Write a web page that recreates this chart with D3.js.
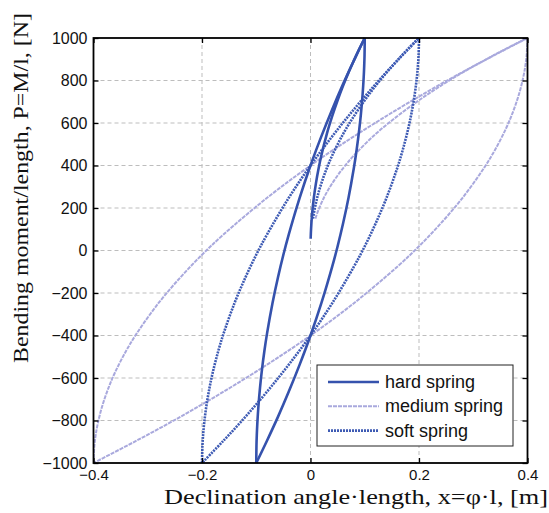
<!DOCTYPE html>
<html>
<head>
<meta charset="utf-8">
<script src="https://cdn.jsdelivr.net/npm/d3@7"></script>
<style>
  html, body { margin: 0; padding: 0; background: #fff; }
  svg { display: block; }
</style>
</head>
<body>
<svg id="chart" width="549" height="513"></svg>
<script>
// ---------- DATA ----------
const xTicks = [-0.4, -0.2, 0, 0.2, 0.4];
const yTicks = [-1000, -800, -600, -400, -200, 0, 200, 400, 600, 800, 1000];
const seriesNames = ["hard spring", "medium spring", "soft spring"];

// hard spring (x max 0.1)
const hardVirginX = [0.0003, 0.001, 0.003, 0.006, 0.01, 0.015, 0.02, 0.03, 0.04, 0.05, 0.06, 0.07, 0.08, 0.09, 0.1];
const hardVirginP = [55, 100, 173, 245, 316, 387, 447, 548, 632, 707, 775, 837, 894, 949, 1000];
const hardDownX = [0.1, 0.0996, 0.099, 0.098, 0.096, 0.093, 0.09, 0.085, 0.08, 0.07, 0.06, 0.05, 0.04, 0.02, 0, -0.02, -0.04, -0.06, -0.08, -0.1];
const hardDownP = [1000, 918, 869, 813, 733, 644, 572, 473, 389, 247, 127, 20, -76, -248, -400, -537, -664, -783, -894, -1000];
const hardUpX = [-0.1, -0.0996, -0.099, -0.098, -0.096, -0.093, -0.09, -0.085, -0.08, -0.07, -0.06, -0.05, -0.04, -0.02, 0, 0.02, 0.04, 0.06, 0.08, 0.1];
const hardUpP = [-1000, -918, -869, -813, -733, -644, -572, -473, -389, -247, -127, -20, 76, 248, 400, 537, 664, 783, 894, 1000];

// soft spring (x max 0.2)
const softVirginX = [0.0045, 0.006, 0.012, 0.02, 0.03, 0.04, 0.06, 0.08, 0.1, 0.12, 0.14, 0.16, 0.18, 0.2];
const softVirginP = [150, 173, 245, 316, 387, 447, 548, 632, 707, 775, 837, 894, 949, 1000];
const softDownX = [0.2, 0.1992, 0.198, 0.196, 0.192, 0.186, 0.18, 0.17, 0.16, 0.14, 0.12, 0.1, 0.08, 0.04, 0, -0.04, -0.08, -0.12, -0.16, -0.2];
const softDownP = [1000, 918, 869, 813, 733, 644, 572, 473, 389, 247, 127, 20, -76, -248, -400, -537, -664, -783, -894, -1000];
const softUpX = [-0.2, -0.1992, -0.198, -0.196, -0.192, -0.186, -0.18, -0.17, -0.16, -0.14, -0.12, -0.1, -0.08, -0.04, 0, 0.04, 0.08, 0.12, 0.16, 0.2];
const softUpP = [-1000, -918, -869, -813, -733, -644, -572, -473, -389, -247, -127, -20, 76, 248, 400, 537, 664, 783, 894, 1000];

// medium spring (x max 0.4)
const mediumVirginX = [0.009, 0.012, 0.024, 0.04, 0.06, 0.08, 0.12, 0.16, 0.2, 0.24, 0.28, 0.32, 0.36, 0.4];
const mediumVirginP = [150, 173, 245, 316, 387, 447, 548, 632, 707, 775, 837, 894, 949, 1000];
const mediumDownX = [0.4, 0.3984, 0.396, 0.392, 0.384, 0.372, 0.36, 0.34, 0.32, 0.28, 0.24, 0.2, 0.16, 0.08, 0, -0.08, -0.16, -0.24, -0.32, -0.4];
const mediumDownP = [1000, 918, 869, 813, 733, 644, 572, 473, 389, 247, 127, 20, -76, -248, -400, -537, -664, -783, -894, -1000];
const mediumUpX = [-0.4, -0.3984, -0.396, -0.392, -0.384, -0.372, -0.36, -0.34, -0.32, -0.28, -0.24, -0.2, -0.16, -0.08, 0, 0.08, 0.16, 0.24, 0.32, 0.4];
const mediumUpP = [-1000, -918, -869, -813, -733, -644, -572, -473, -389, -247, -127, -20, 76, 248, 400, 537, 664, 783, 894, 1000];

// ---------- LAYOUT ----------
const svg = d3.select("#chart");
const L = 93.5, R = 527.5, T = 38, B = 463;
const x = d3.scaleLinear().domain([-0.4, 0.4]).range([L, R]);
const y = d3.scaleLinear().domain([-1000, 1000]).range([B, T]);

const zip = (xs, ps) => xs.map((v, i) => [v, ps[i]]);

// grid
const grid = svg.append("g");
xTicks.slice(1, -1).forEach(t => {
  grid.append("line").attr("x1", x(t)).attr("x2", x(t)).attr("y1", T).attr("y2", B)
    .attr("stroke", "#bdbdbd").attr("stroke-width", 1).attr("stroke-dasharray", "4,3");
});
yTicks.slice(1, -1).forEach(t => {
  grid.append("line").attr("x1", L).attr("x2", R).attr("y1", y(t)).attr("y2", y(t))
    .attr("stroke", "#bdbdbd").attr("stroke-width", 1).attr("stroke-dasharray", "4,3");
});

// clip
svg.append("clipPath").attr("id", "clip").append("rect")
  .attr("x", L).attr("y", T - 2).attr("width", R - L).attr("height", B - T + 4);

const line = d3.line().x(d => x(d[0])).y(d => y(d[1])).curve(d3.curveCatmullRom.alpha(0.5));
const plot = svg.append("g").attr("clip-path", "url(#clip)");

const styles = {
  "hard spring":   { stroke: "#3552ad", width: 2.6, dash: null },
  "medium spring": { stroke: "#a9a9dd", width: 2, dash: "4,1" },
  "soft spring":   { stroke: "#3e5bb4", width: 2.6, dash: "2,1" }
};

const medium = [zip(mediumVirginX, mediumVirginP), zip(mediumDownX, mediumDownP), zip(mediumUpX, mediumUpP)];
const soft = [zip(softVirginX, softVirginP), zip(softDownX, softDownP), zip(softUpX, softUpP)];
const hard = [zip(hardVirginX, hardVirginP), zip(hardDownX, hardDownP), zip(hardUpX, hardUpP)];

function drawSeries(branches, st) {
  branches.forEach(b => {
    plot.append("path").attr("d", line(b)).attr("fill", "none")
      .attr("stroke", st.stroke).attr("stroke-width", st.width)
      .attr("stroke-dasharray", st.dash);
  });
}
drawSeries(medium, styles["medium spring"]);
drawSeries(soft, styles["soft spring"]);
drawSeries(hard, styles["hard spring"]);

// axes
const axisG = svg.append("g");
const xAxB = d3.axisBottom(x).tickValues(xTicks).tickSize(-5).tickPadding(6).tickFormat(d => d === 0 ? "0" : d3.format(".1f")(d));
const xAxT = d3.axisTop(x).tickValues(xTicks).tickSize(-5).tickFormat("");
const yAxL = d3.axisLeft(y).tickValues(yTicks).tickSize(-5).tickPadding(6).tickFormat(d3.format("d"));
const yAxR = d3.axisRight(y).tickValues(yTicks).tickSize(-5).tickFormat("");

function styleAxis(g, size) {
  g.select(".domain").remove();
  g.selectAll(".tick line").attr("stroke", "#000").attr("stroke-width", 1.3);
  g.selectAll(".tick text").attr("fill", "#111").attr("font-family", "'Liberation Sans', Arial, sans-serif").attr("font-size", size);
}
axisG.append("g").attr("transform", `translate(0,${B})`).call(xAxB).call(styleAxis, 15);
axisG.append("g").attr("transform", `translate(0,${T})`).call(xAxT).call(styleAxis, 15);
axisG.append("g").attr("transform", `translate(${L},0)`).call(yAxL).call(styleAxis, 16);
axisG.append("g").attr("transform", `translate(${R},0)`).call(yAxR).call(styleAxis, 16);

svg.append("rect").attr("x", L).attr("y", T).attr("width", R - L).attr("height", B - T)
  .attr("fill", "none").attr("stroke", "#000").attr("stroke-width", 1.8);

// axis titles
svg.append("text").attr("x", 548).attr("y", 504).attr("text-anchor", "end")
  .attr("font-family", "'Liberation Serif', 'DejaVu Serif', serif").attr("font-size", 21).attr("fill", "#111")
  .attr("textLength", 384).attr("lengthAdjust", "spacingAndGlyphs")
  .text("Declination angle·length, x=φ·l, [m]");
svg.append("text").attr("transform", "translate(28,188) rotate(-90)").attr("text-anchor", "middle")
  .attr("font-family", "'Liberation Serif', 'DejaVu Serif', serif").attr("font-size", 22).attr("fill", "#111")
  .attr("textLength", 350).attr("lengthAdjust", "spacingAndGlyphs")
  .text("Bending moment/length, P=M/l, [N]");

// legend
const lg = svg.append("g").attr("transform", "translate(317,365)");
lg.append("rect").attr("width", 196).attr("height", 81).attr("fill", "#fff").attr("stroke", "#222").attr("stroke-width", 1);
seriesNames.forEach((n, i) => {
  const st = styles[n];
  const yy = 17 + i * 24.3;
  lg.append("line").attr("x1", 11).attr("x2", 62).attr("y1", yy).attr("y2", yy)
    .attr("stroke", st.stroke).attr("stroke-width", st.width).attr("stroke-dasharray", st.dash);
  lg.append("text").attr("x", 68).attr("y", yy + 6)
    .attr("font-family", "'Liberation Sans', Arial, sans-serif").attr("font-size", 18).attr("fill", "#111").text(n);
});
</script>
</body>
</html>
